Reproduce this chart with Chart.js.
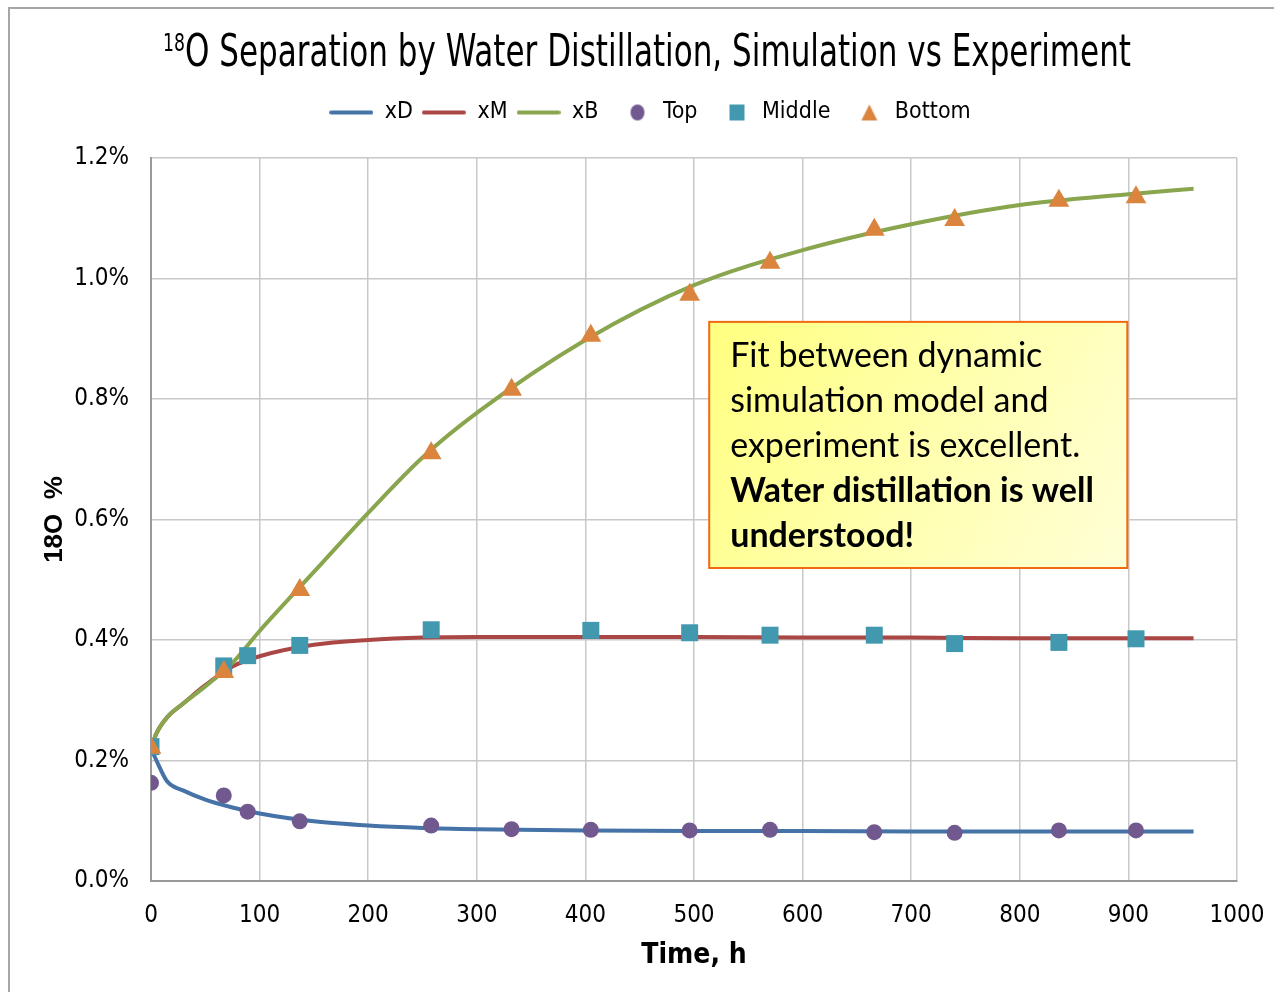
<!DOCTYPE html>
<html>
<head>
<meta charset="utf-8">
<script src="https://cdn.jsdelivr.net/npm/chart.js@4"></script>
<style>
  body { margin: 0; background: #fff; overflow: hidden; }
  #wrap { position: absolute; left: 8px; top: 7px; width: 1264px; height: 983px;
          border-left: 2px solid #a6a6a6; border-top: 2px solid #a6a6a6; }
</style>
</head>
<body>
<div id="wrap"><canvas id="chart" width="1264" height="983"></canvas></div>
<script>
const NARROW = '"Liberation Sans Narrow", "DejaVu Sans Condensed", "Roboto Condensed", Roboto, sans-serif';

// simulation (lines)
var tSim = [0, 5, 15, 30, 50, 75, 100, 150, 200, 250, 300, 400, 500, 600, 700, 800, 900, 960];
var xD = [0.220, 0.200, 0.165, 0.150, 0.135, 0.122, 0.112, 0.099, 0.092, 0.088, 0.086, 0.084, 0.083, 0.083, 0.082, 0.082, 0.082, 0.082];
var xM = [0.220, 0.245, 0.272, 0.295, 0.325, 0.356, 0.373, 0.392, 0.400, 0.404, 0.405, 0.405, 0.405, 0.404, 0.404, 0.403, 0.403, 0.403];
var xB = [0.220, 0.245, 0.272, 0.295, 0.323, 0.362, 0.415, 0.513, 0.611, 0.703, 0.777, 0.898, 0.989, 1.047, 1.090, 1.122, 1.140, 1.149];

// experiment (markers)
var tTop = [0, 67, 89, 137, 258, 332, 405, 496, 570, 666, 740, 836, 907];
var top_ = [0.163, 0.142, 0.115, 0.099, 0.092, 0.086, 0.085, 0.084, 0.085, 0.081, 0.080, 0.084, 0.084];
var tMid = [0, 67, 89, 137, 258, 405, 496, 570, 666, 740, 836, 907];
var middle = [0.223, 0.357, 0.374, 0.391, 0.417, 0.416, 0.412, 0.408, 0.408, 0.394, 0.396, 0.402];
var tBot = [0, 67, 137, 258, 332, 405, 496, 570, 666, 740, 836, 907];
var bottom = [0.221, 0.347, 0.483, 0.710, 0.8155, 0.905, 0.973, 1.026, 1.081, 1.097, 1.129, 1.135];

var note = ['Fit between dynamic', 'simulation model and', 'experiment is excellent.', 'Water distillation is well', 'understood!'];

function pts(xs, ys) { return xs.map((x, i) => ({x: x, y: ys[i]})); }

// legend swatches
function swatch(kind, color) {
  const c = document.createElement('canvas');
  c.width = 44; c.height = 20;
  const g = c.getContext('2d');
  g.fillStyle = color; g.strokeStyle = color;
  if (kind === 'line') {
    g.lineWidth = 4; g.lineCap = 'round';
    g.beginPath(); g.moveTo(2, 10); g.lineTo(42, 10); g.stroke();
  } else if (kind === 'circle') {
    g.beginPath(); g.ellipse(30, 10, 7, 8, 0, 0, Math.PI * 2); g.fill();
  } else if (kind === 'rect') {
    g.fillRect(23, 2, 15, 16);
  } else {
    g.beginPath(); g.moveTo(30, 2); g.lineTo(38, 18); g.lineTo(22, 18); g.closePath(); g.fill();
  }
  return c;
}

const legendGap = {
  id: 'legendGap',
  beforeInit(chart) {
    const fit = chart.legend.fit;
    chart.legend.fit = function () { fit.bind(chart.legend)(); this.height += 24; };
  }
};

const decor = {
  id: 'decor',
  afterDraw(chart) {
    const ctx = chart.ctx;
    const xs = chart.scales.x, ys = chart.scales.y;
    // title with superscript, squeezed to look like a narrow face
    ctx.save();
    ctx.fillStyle = '#000';
    ctx.textBaseline = 'alphabetic';
    const big = '45px ' + NARROW, small = '25px ' + NARROW;
    const main = 'O Separation by Water Distillation, Simulation vs Experiment';
    ctx.font = small; const w1 = ctx.measureText('18').width;
    ctx.font = big; const w2 = ctx.measureText(main).width;
    const target = 968, sx = target / (w1 + w2);
    ctx.translate(637 - target / 2, 0);
    ctx.scale(sx, 1);
    ctx.font = small; ctx.fillText('18', 0, 42);
    ctx.font = big; ctx.fillText(main, w1, 57);
    ctx.restore();

    // note box
    const l = xs.getPixelForValue(514), r = xs.getPixelForValue(899);
    const t = ys.getPixelForValue(0.928), b = ys.getPixelForValue(0.5195);
    ctx.save();
    const grad = ctx.createLinearGradient(l, t, r, b);
    grad.addColorStop(0, '#ffff80');
    grad.addColorStop(1, '#ffffd8');
    ctx.fillStyle = grad;
    ctx.fillRect(l, t, r - l, b - t);
    ctx.strokeStyle = '#f26a10'; ctx.lineWidth = 2;
    ctx.strokeRect(l, t, r - l, b - t);
    ctx.fillStyle = '#000';
    ctx.textBaseline = 'middle';
    note.forEach((s, i) => {
      ctx.font = (i >= 3 ? 'bold ' : '') + '34px Lato, "Open Sans", sans-serif';
      ctx.fillText(s, l + 21, t + 34 + i * 45);
    });
    ctx.restore();
  }
};

new Chart(document.getElementById('chart'), {
  type: 'scatter',
  data: {
    datasets: [
      { label: 'xD', data: pts(tSim, xD), showLine: true, borderColor: '#4572A7', borderWidth: 4, pointRadius: 0, cubicInterpolationMode: 'monotone', order: 6, swatch: 'line' },
      { label: 'xM', data: pts(tSim, xM), showLine: true, borderColor: '#AA4643', borderWidth: 4, pointRadius: 0, cubicInterpolationMode: 'monotone', order: 5, swatch: 'line' },
      { label: 'xB', data: pts(tSim, xB), showLine: true, borderColor: '#89A54E', borderWidth: 4, pointRadius: 0, cubicInterpolationMode: 'monotone', order: 4, swatch: 'line' },
      { label: 'Top', data: pts(tTop, top_), pointStyle: 'circle', pointRadius: 8, backgroundColor: '#71588F', borderColor: '#71588F', borderWidth: 0, order: 3, swatch: 'circle' },
      { label: 'Middle', data: pts(tMid, middle), pointStyle: 'rect', pointRadius: 12, backgroundColor: '#4198AF', borderColor: '#4198AF', borderWidth: 0, order: 2, swatch: 'rect' },
      { label: 'Bottom', data: pts(tBot, bottom), pointStyle: 'triangle', pointRadius: 12, backgroundColor: '#DB843D', borderColor: '#DB843D', borderWidth: 0, order: 1, swatch: 'triangle' }
    ]
  },
  options: {
    responsive: false,
    animation: false,
    layout: { padding: { top: 83, left: 53, right: 37, bottom: 0 } },
    plugins: {
      tooltip: { enabled: false },
      title: { display: false },
      legend: {
        display: true,
        labels: {
          usePointStyle: true,
          pointStyleWidth: 44,
          padding: 9,
          color: '#000',
          font: { family: NARROW, size: 23 },
          generateLabels(chart) {
            return chart.data.datasets.map((d, i) => ({
              text: d.label,
              pointStyle: swatch(d.swatch, d.borderColor),
              fillStyle: d.borderColor, strokeStyle: d.borderColor,
              lineWidth: 0, hidden: false, datasetIndex: i
            }));
          }
        }
      }
    },
    scales: {
      x: {
        type: 'linear', min: 0, max: 1000,
        ticks: { stepSize: 100, color: '#000', font: { family: NARROW, size: 24 }, padding: 20,
                 callback: v => String(v) },
        grid: { color: '#c8c8c8', lineWidth: 1.5, drawTicks: false },
        border: { color: '#999', width: 2 },
        title: { display: true, text: 'Time, h', color: '#000', font: { family: NARROW, size: 28, weight: 'bold' }, padding: { top: 0, bottom: 19 } },
        afterFit(s) { s.height = 111; s.paddingLeft = 0; s.paddingRight = 0; }
      },
      y: {
        min: 0, max: 1.2,
        ticks: { stepSize: 0.2, color: '#000', font: { family: NARROW, size: 24 }, padding: 22,
                 callback: v => v.toFixed(1) + '%' },
        grid: { color: '#c8c8c8', lineWidth: 1.5, drawTicks: false },
        border: { color: '#999', width: 2 },
        title: { display: true, text: '18O  %', color: '#000', font: { family: 'Liberation Sans, Arial, sans-serif', size: 26, weight: 'bold' }, padding: { top: -24, bottom: 0 } },
        afterFit(s) { s.width = 88; }
      }
    }
  },
  plugins: [legendGap, decor]
});
</script>
</body>
</html>
